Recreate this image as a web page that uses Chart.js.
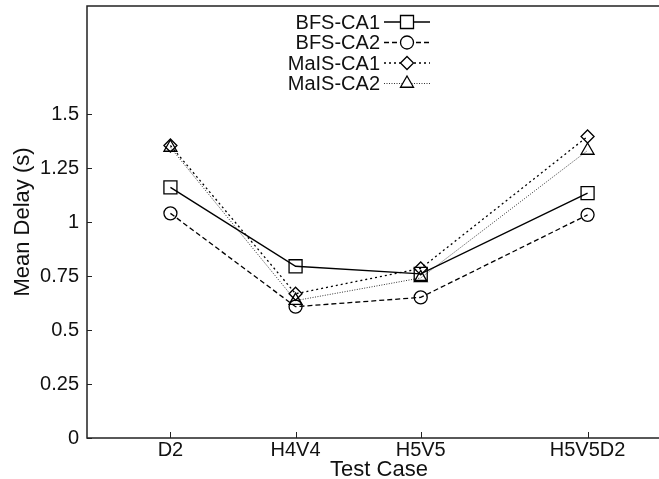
<!DOCTYPE html>
<html>
<head>
<meta charset="utf-8">
<script src="https://cdn.jsdelivr.net/npm/chart.js@4.4.0/dist/chart.umd.min.js"></script>
<style>
  html, body { margin: 0; padding: 0; background: #fff; overflow: hidden; }
  #wrap { width: 680px; height: 479px; }
</style>
</head>
<body>
<div id="wrap"><canvas id="delay" width="680" height="479"></canvas></div>
<script>
// test cases and where they sit on the x axis (spacing 3,3,4 like the original)
const categories = ['D2', 'H4V4', 'H5V5', 'H5V5D2'];
const xPositions = [3, 6, 9, 13];
const yTicks = [0, 0.25, 0.5, 0.75, 1, 1.25, 1.5];

const seriesNames = ['BFS-CA1', 'BFS-CA2', 'MaIS-CA1', 'MaIS-CA2'];
const bfsCa1 = [1.16, 0.795, 0.76, 1.134];
const bfsCa2 = [1.04, 0.608, 0.651, 1.033];
const maisCa1 = [1.354, 0.668, 0.785, 1.396];
const maisCa2 = [1.345, 0.636, 0.741, 1.331];

const FONT = 'Liberation Sans, Arial, Helvetica, sans-serif';

function toPoints(values) {
  return values.map((v, i) => ({ x: xPositions[i], y: v }));
}

function makeDataset(label, values, style) {
  return {
    label: label,
    data: toPoints(values),
    borderColor: style.color || '#000',
    borderWidth: style.width || 1.3,
    borderDash: style.dash || [],
    pointStyle: style.point,
    pointRadius: style.radius,
    pointBorderWidth: 1.3,
    pointBorderColor: '#000',
    pointBackgroundColor: 'rgba(255,255,255,0)',
    tension: 0,
    fill: false,
  };
}

const datasets = [
  makeDataset(seriesNames[0], bfsCa1, { point: 'rect', radius: 9.2, width: 1.4 }),
  makeDataset(seriesNames[1], bfsCa2, { point: 'circle', radius: 6.5, dash: [5, 3] }),
  makeDataset(seriesNames[2], maisCa1, { point: 'rectRot', radius: 6.5, dash: [2, 3] }),
  makeDataset(seriesNames[3], maisCa2, { point: 'triangle', radius: 7.5, dash: [1, 1.5], width: 1, color: '#333' }),
];

function noEdgePadding(scale) {
  scale.paddingTop = 0;
  scale.paddingBottom = 0;
  scale.paddingLeft = 0;
  scale.paddingRight = 0;
}

// frame, inward tick marks and the gnuplot-style key
const framePlugin = {
  id: 'frame',
  afterDatasetsDraw(chart) {
    const ctx = chart.ctx;
    const a = chart.chartArea;
    const xs = chart.scales.x;
    const ys = chart.scales.y;
    ctx.save();
    ctx.strokeStyle = '#222';
    ctx.lineWidth = 1.5;
    ctx.setLineDash([]);
    ctx.strokeRect(a.left, a.top, a.right - a.left, a.bottom - a.top);
    ctx.lineWidth = 1;
    ctx.beginPath();
    yTicks.forEach(v => {
      const py = Math.round(ys.getPixelForValue(v)) + 0.5;
      ctx.moveTo(a.left, py);
      ctx.lineTo(a.left + 5, py);
    });
    xPositions.forEach(v => {
      const px = Math.round(xs.getPixelForValue(v)) + 0.5;
      ctx.moveTo(px, a.bottom);
      ctx.lineTo(px, a.bottom - 6);
    });
    ctx.stroke();

    // key
    const textRight = 380;
    const lineStart = 384;
    const lineEnd = 430;
    const symX = 407;
    ctx.font = '20px ' + FONT;
    ctx.textAlign = 'right';
    ctx.textBaseline = 'middle';
    chart.data.datasets.forEach((ds, i) => {
      const y = 22 + i * 20.5;
      ctx.fillStyle = '#111';
      ctx.fillText(ds.label, textRight, y + 1);
      ctx.strokeStyle = ds.borderColor;
      ctx.lineWidth = ds.borderWidth;
      ctx.setLineDash(ds.borderDash);
      ctx.beginPath();
      ctx.moveTo(lineStart, y);
      ctx.lineTo(lineEnd, y);
      ctx.stroke();
      ctx.setLineDash([]);
      ctx.strokeStyle = '#000';
      ctx.fillStyle = '#fff';
      ctx.lineWidth = 1.3;
      Chart.helpers.drawPoint(ctx, {
        pointStyle: ds.pointStyle,
        radius: ds.pointRadius,
        rotation: 0,
        borderWidth: 1.3,
      }, symX, y);
    });
    ctx.restore();
  }
};

new Chart(document.getElementById('delay'), {
  type: 'line',
  data: { datasets: datasets },
  options: {
    responsive: false,
    animation: false,
    layout: { autoPadding: false, padding: { left: 0, top: 6, right: 9, bottom: 0 } },
    plugins: {
      legend: { display: false },
      tooltip: { enabled: false },
    },
    scales: {
      x: {
        type: 'linear',
        min: 1,
        max: 15,
        afterBuildTicks: scale => { scale.ticks = xPositions.map(v => ({ value: v })); },
        afterFit: scale => { scale.height = 41; noEdgePadding(scale); },
        grid: { display: false, drawTicks: false },
        border: { display: false },
        ticks: {
          color: '#111',
          font: { family: FONT, size: 20 },
          padding: 0,
          maxRotation: 0,
          autoSkip: false,
          callback: v => categories[xPositions.indexOf(v)],
        },
        title: {
          display: true,
          text: 'Test Case',
          color: '#111',
          font: { family: FONT, size: 22, lineHeight: 0.85 },
          padding: { top: 0, bottom: 0 },
        },
      },
      y: {
        min: 0,
        max: 2,
        afterBuildTicks: scale => { scale.ticks = yTicks.map(v => ({ value: v })); },
        afterFit: scale => { scale.width = 87; noEdgePadding(scale); },
        grid: { display: false, drawTicks: false },
        border: { display: false },
        ticks: {
          color: '#111',
          font: { family: FONT, size: 20 },
          padding: 8,
          callback: v => String(v),
        },
        title: {
          display: true,
          text: 'Mean Delay (s)',
          color: '#111',
          font: { family: FONT, size: 22, lineHeight: 1 },
          padding: { top: 12, bottom: 0 },
        },
      },
    },
  },
  plugins: [framePlugin],
});
</script>
</body>
</html>
